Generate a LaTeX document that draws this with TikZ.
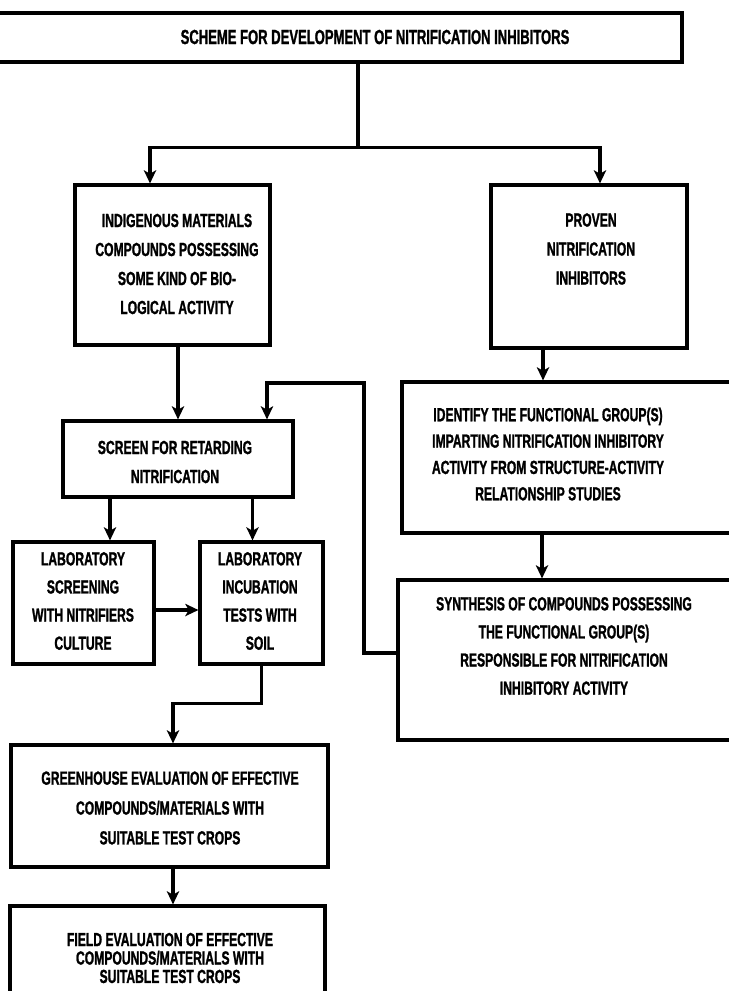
\documentclass[tikz,border=0pt]{standalone}
\usepackage{fontspec}
\setmainfont{Liberation Sans}[FakeStretch=0.64, BoldFeatures={FakeBold=1.2}]
\usetikzlibrary{arrows.meta}

\begin{document}
\begin{tikzpicture}[x=0.02cm, y=-0.02cm, line width=1.8pt, >={Stealth[length=7.5pt,width=7pt,inset=2pt]},
    box/.style={draw, rectangle, inner sep=0pt},
    txt/.style={align=center, font=\fontsize{10.8}{16.5}\selectfont\bfseries}]
    \useasboundingbox (0,0) rectangle (729,991);

    % boxes
    \node[box, minimum width=14.84cm, minimum height=0.98cm] (title) at (311,37.5) {};
    \node[box, minimum width=3.9cm, minimum height=3.2cm] (indig) at (172.5,265) {};
    \node[box, minimum width=3.92cm, minimum height=3.26cm] (proven) at (589,266.5) {};
    \node[box, minimum width=4.6cm, minimum height=1.52cm] (screen) at (178,459) {};
    \node[box, minimum width=7.16cm, minimum height=3.02cm] (identify) at (581,457.5) {};
    \node[box, minimum width=2.82cm, minimum height=2.44cm] (labscr) at (83.5,603) {};
    \node[box, minimum width=2.46cm, minimum height=2.44cm] (labinc) at (261.5,603) {};
    \node[box, minimum width=7.24cm, minimum height=3.2cm] (synth) at (579,660) {};
    \node[box, minimum width=6.34cm, minimum height=2.44cm] (green) at (169.5,806) {};
    \node[box, minimum width=6.3cm, minimum height=2.08cm] (field) at (167.5,958) {};

    % texts
    \node[txt, font=\fontsize{11.6}{14}\selectfont\bfseries] (titletext) at (375,37)
        {SCHEME FOR DEVELOPMENT OF NITRIFICATION INHIBITORS};
    \node[txt] (indigtext) at (177,264)
        {INDIGENOUS MATERIALS\\COMPOUNDS POSSESSING\\SOME KIND OF BIO-\\LOGICAL ACTIVITY};
    \node[txt] (proventext) at (591,249) {PROVEN\\NITRIFICATION\\INHIBITORS};
    \node[txt] (screentext) at (175,462) {SCREEN FOR RETARDING\\NITRIFICATION};
    \node[txt, font=\fontsize{10.8}{15}\selectfont\bfseries] (identtext) at (548,454)
        {IDENTIFY THE FUNCTIONAL GROUP(S)\\IMPARTING NITRIFICATION INHIBITORY\\ACTIVITY FROM STRUCTURE-ACTIVITY\\RELATIONSHIP STUDIES};
    \node[txt, font=\fontsize{10.8}{16}\selectfont\bfseries] (labscrtext) at (83,601)
        {LABORATORY\\SCREENING\\WITH NITRIFIERS\\CULTURE};
    \node[txt, font=\fontsize{10.8}{16}\selectfont\bfseries] (labinctext) at (260,601)
        {LABORATORY\\INCUBATION\\TESTS WITH\\SOIL};
    \node[txt, font=\fontsize{10.8}{16}\selectfont\bfseries] (synthtext) at (564,646)
        {SYNTHESIS OF COMPOUNDS POSSESSING\\THE FUNCTIONAL GROUP(S)\\RESPONSIBLE FOR NITRIFICATION\\INHIBITORY ACTIVITY};
    \node[txt, font=\fontsize{10.8}{17}\selectfont\bfseries] (greentext) at (170,808)
        {GREENHOUSE EVALUATION OF EFFECTIVE\\COMPOUNDS/MATERIALS WITH\\SUITABLE TEST CROPS};
    \node[txt, font=\fontsize{10.8}{10.5}\selectfont\bfseries] (fieldtext) at (170,958)
        {FIELD EVALUATION OF EFFECTIVE\\COMPOUNDS/MATERIALS WITH\\SUITABLE TEST CROPS};

    % connectors
    \draw ([xshift=0.94cm]title.south) -- ++(0,84) coordinate (split);
    \draw[->] (split) -| ([xshift=-0.45cm]indig.north);
    \draw[->] (split) -| ([xshift=0.22cm]proven.north);
    \draw[->] (indig.south -| screen.north) -- (screen.north);
    \draw[->] ([xshift=0.53cm]labscr.north |- screen.south) -- ([xshift=0.53cm]labscr.north);
    \draw[->] ([xshift=-0.18cm]labinc.north |- screen.south) -- ([xshift=-0.18cm]labinc.north);
    \draw[->] ([yshift=-0.14cm]labscr.east) -- ([yshift=-0.14cm]labscr.east -| labinc.west);
    \draw[->] (labinc.south) -- ++(0,38) -| ([xshift=0.07cm]green.north);
    \draw[->] ([xshift=0.07cm]green.south) -- ([xshift=0.07cm]green.south |- field.north);
    \draw[->] ([xshift=-0.92cm]proven.south) -- ([xshift=-0.92cm]proven.south |- identify.north);
    \draw[->] ([xshift=-0.78cm]identify.south) -- ([xshift=-0.78cm]identify.south |- synth.north);
    \draw[->] ([yshift=0.14cm]synth.west) -| (364,383) -| ([xshift=1.78cm]screen.north);
\end{tikzpicture}
\end{document}
